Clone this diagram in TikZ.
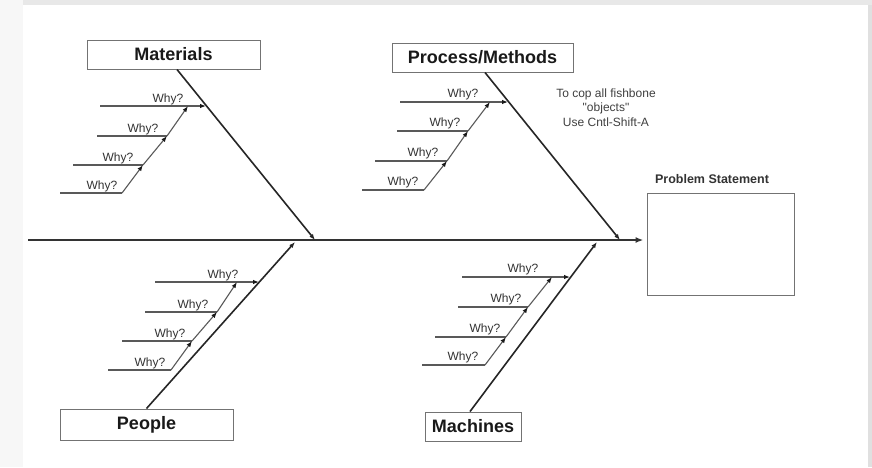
\documentclass[tikz,border=0pt]{standalone}
\usepackage{fontspec}
\setmainfont{Liberation Sans}
\usetikzlibrary{arrows.meta,positioning}

\tikzset{
  spine/.style={line width=1.8pt,draw=black!80,-{Latex[length=8pt,width=6pt]}},
  bone/.style={line width=1.6pt,draw=black!85,-{Latex[length=6pt,width=4.5pt]}},
  why/.style={line width=1.1pt,draw=black!65},
  whyarrow/.style={why,-{Latex[length=6pt,width=4.5pt,color=black!90]}},
  whytext/.style={font=\fontsize{12}{13}\selectfont,text=black!80,inner sep=0pt,anchor=base},
  catbox/.style={draw=black!55,line width=1pt,fill=white,text=black!90,
    font=\bfseries\fontsize{18}{20}\selectfont,inner sep=0pt,minimum height=29pt},
}

\begin{document}
\begin{tikzpicture}[x=1pt,y=-1pt]
  % page background
  \fill[black!3] (0,0) rectangle (872,467);
  \fill[white] (23,5) rectangle (868,467);
  \fill[black!9] (23,0) rectangle (872,5);
  \fill[black!12] (868,5) rectangle (872,467);
  \useasboundingbox (0,0) rectangle (872,467);

  % head and spine
  \node[draw=black!55,line width=1pt,minimum width=147pt,minimum height=102pt] (prob) at (720.5,244) {};
  \node[font=\bfseries\fontsize{12.5}{14}\selectfont,text=black!80,anchor=base] (probtxt) at (712,183) {Problem Statement};
  \coordinate (tail) at (28,240);
  \draw[spine,shorten >=3pt] (tail) -- (tail -| prob.west);

  \node[font=\fontsize{12}{14.5}\selectfont,text=black!75,align=center] (note) at (606,107.5)
    {To cop all fishbone\\\textquotedbl objects\textquotedbl\\Use Cntl-Shift-A};

  % category boxes
  \node[catbox,minimum width=173pt] (mat) at (173.5,54.5) {Materials};
  \node[catbox,minimum width=181pt] (proc) at (482.5,57.5) {Process/Methods};
  \node[catbox,minimum width=173pt,minimum height=31pt] (peop) at (146.5,424.5) {People};
  \node[catbox,minimum width=96pt] (mach) at (473,426.5) {Machines};

  % bones
  \coordinate (mat-j) at (315,240);
  \coordinate (proc-j) at (620,240);
  \coordinate (peop-j) at (295,242);
  \coordinate (mach-j) at (597,242);
  \draw[bone] ([xshift=3.5pt]mat.south) -- (mat-j);
  \draw[bone] ([xshift=2.5pt]proc.south) -- (proc-j);
  \draw[bone] (peop.north) -- (peop-j);
  \draw[bone] ([xshift=-3pt]mach.north) -- (mach-j);

  % Materials
  \foreach \lx/\ly/\rx/\tx [count=\i] in {60/193/122/102,73/165/143/118,97/136/167/143,100/106/188/168}{
    \coordinate (mat-l\i) at (\lx,\ly);
    \coordinate (mat-r\i) at (\rx,\ly);
    \draw[why] (mat-l\i) -- (mat-r\i);
    \node[whytext] (mat-w\i) at (\tx,{\ly-3.5}) {Why?};
  }
  \foreach \i [evaluate={\j=int(\i+1);}] in {1,2,3}
    \draw[whyarrow] (mat-r\i) -- (mat-r\j);
  \coordinate (mat-e) at (206,106);
  \draw[whyarrow] (mat-r4) -- (mat-e);

  % Process/Methods
  \foreach \lx/\ly/\rx/\tx [count=\i] in {362/190/424/403,375/161/447/423,397/131/468/445,400/102/490/463}{
    \coordinate (proc-l\i) at (\lx,\ly);
    \coordinate (proc-r\i) at (\rx,\ly);
    \draw[why] (proc-l\i) -- (proc-r\i);
    \node[whytext] (proc-w\i) at (\tx,{\ly-4.5}) {Why?};
  }
  \foreach \i [evaluate={\j=int(\i+1);}] in {1,2,3}
    \draw[whyarrow] (proc-r\i) -- (proc-r\j);
  \coordinate (proc-e) at (508,102);
  \draw[whyarrow] (proc-r4) -- (proc-e);

  % People
  \foreach \lx/\ly/\rx/\tx [count=\i] in {108/370/171/150,122/341/192/170,145/312/217/193,155/282/237/223}{
    \coordinate (peop-l\i) at (\lx,\ly);
    \coordinate (peop-r\i) at (\rx,\ly);
    \draw[why] (peop-l\i) -- (peop-r\i);
    \node[whytext] (peop-w\i) at (\tx,{\ly-3.5}) {Why?};
  }
  \foreach \i [evaluate={\j=int(\i+1);}] in {1,2,3}
    \draw[whyarrow] (peop-r\i) -- (peop-r\j);
  \coordinate (peop-e) at (259,282);
  \draw[whyarrow] (peop-r4) -- (peop-e);

  % Machines
  \foreach \lx/\ly/\rx/\tx [count=\i] in {422/365/485/463,435/337/506/485,458/307/528/506,462/277/552/523}{
    \coordinate (mach-l\i) at (\lx,\ly);
    \coordinate (mach-r\i) at (\rx,\ly);
    \draw[why] (mach-l\i) -- (mach-r\i);
    \node[whytext] (mach-w\i) at (\tx,{\ly-5}) {Why?};
  }
  \foreach \i [evaluate={\j=int(\i+1);}] in {1,2,3}
    \draw[whyarrow] (mach-r\i) -- (mach-r\j);
  \coordinate (mach-e) at (570,277);
  \draw[whyarrow] (mach-r4) -- (mach-e);
\end{tikzpicture}
\end{document}
